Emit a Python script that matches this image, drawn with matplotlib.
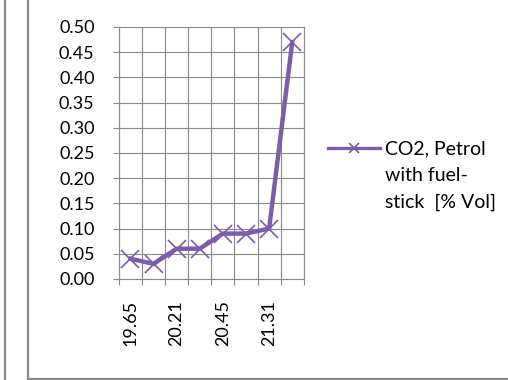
import matplotlib
matplotlib.use("Agg")
import matplotlib.pyplot as plt
from matplotlib.lines import Line2D
import numpy as np

plt.rcParams['font.family'] = ['Lato', 'DejaVu Sans']

# engine speed readings (only every second one gets a label) and CO2 share
categories = ["19.65", "19.93", "20.21", "20.33", "20.45", "20.88", "21.31", "21.64"]
co2_values = [0.04, 0.03, 0.06, 0.06, 0.09, 0.09, 0.10, 0.47]
y_ticks = [0.00, 0.05, 0.10, 0.15, 0.20, 0.25, 0.30, 0.35, 0.40, 0.45, 0.50]
series_label = ["CO2, Petrol", "with fuel-", "stick  [% Vol]"]

purple = "#7b5fa6"
grey = "#8a8a8a"

fig = plt.figure(figsize=(5.08, 3.8), dpi=100)
ax = fig.add_axes([0.234, 0.266, 0.364, 0.663])

x = np.arange(len(categories))
line, = ax.plot(x, co2_values, color=purple, lw=3.2, marker="x", markersize=13,
                markeredgewidth=1.2, solid_joinstyle="round")

ax.set_xlim(-0.5, len(categories) - 0.5)
ax.set_ylim(0, 0.5)
ax.set_yticks(y_ticks)
ax.set_yticklabels([f"{v:.2f}" for v in y_ticks])

# category boundaries carry the vertical grid, labels sit on every other point
ax.set_xticks(np.arange(len(categories) + 1) - 0.5, minor=False)
ax.set_xticklabels([])
ax.set_xticks(x[::2], minor=True)
ax.set_xticklabels(categories[::2], minor=True, rotation=90)
ax.tick_params(axis="x", which="minor", length=0, pad=15, labelsize=13)
ax.tick_params(axis="x", which="major", length=4.5, color=grey, width=0.8)
ax.tick_params(axis="y", length=4.5, color=grey, width=0.8, pad=13, labelsize=13)

ax.grid(True, which="major", color=grey, lw=0.8)
ax.set_axisbelow(True)
for s in ax.spines.values():
    s.set_color(grey)
    s.set_linewidth(0.8)

# legend: the series handle on the first row, wrapped label continues below
key = Line2D([], [], color=purple, lw=2.4, marker="x", markersize=7,
             markeredgewidth=1.2)
blank = Line2D([], [], color="none")
leg = ax.legend([key, blank, blank], series_label, loc="upper left",
                bbox_to_anchor=(1.13, 0.55), frameon=False, numpoints=1,
                fontsize=14, handlelength=2.7, handletextpad=0.25,
                labelspacing=0.5, borderaxespad=0, borderpad=0)

# surrounding frame lines
fig.add_artist(Line2D([4.5 / 508, 4.5 / 508], [0, 1], color=grey, lw=1.6))
fig.add_artist(Line2D([27.5 / 508, 27.5 / 508], [1.5 / 380, 1], color=grey, lw=1.6))
fig.add_artist(Line2D([27.5 / 508, 1], [1.5 / 380, 1.5 / 380], color=grey, lw=1.6))

fig.savefig("out.png", dpi=100)
